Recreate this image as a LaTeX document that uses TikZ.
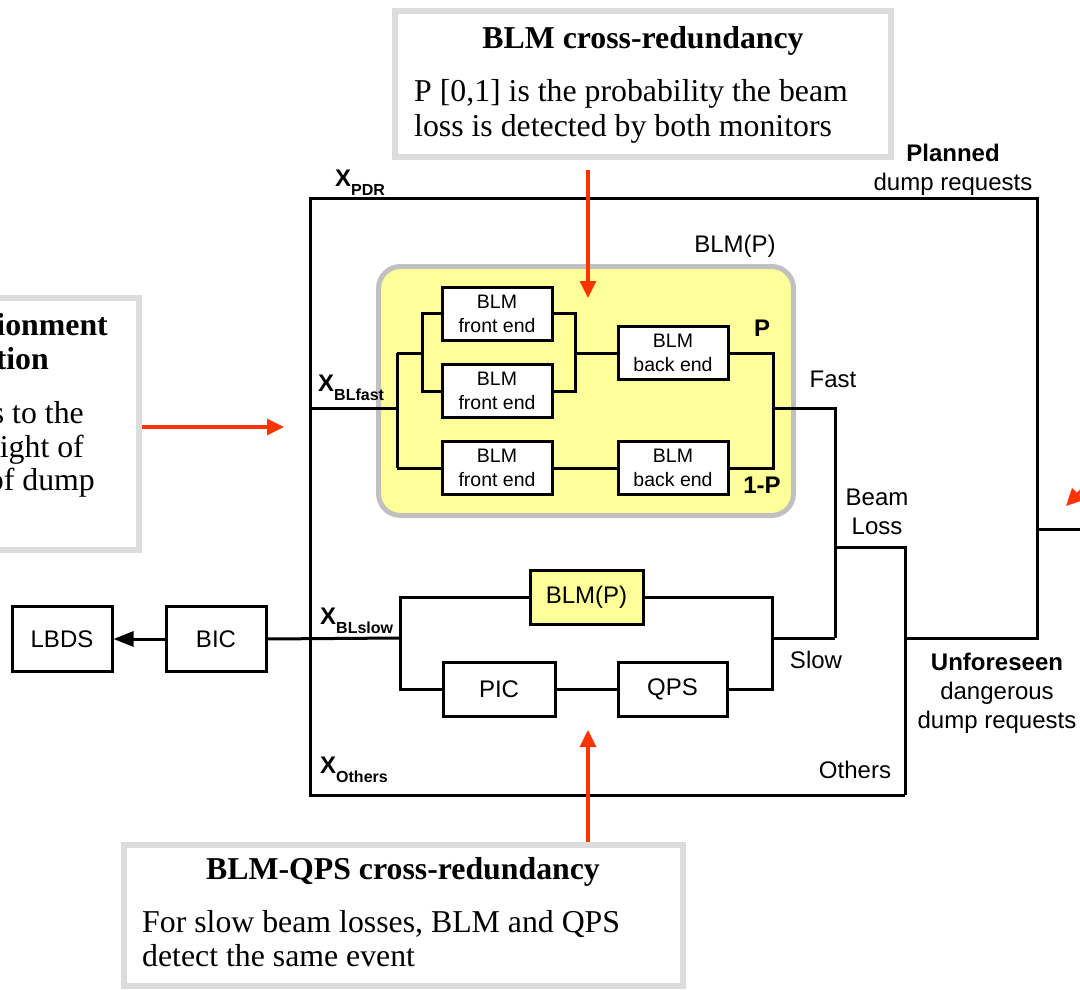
\documentclass[tikz,border=0pt]{standalone}
\usepackage{fontspec}
\setmainfont{Liberation Serif}
\newfontfamily\sansf{Liberation Sans}
\usetikzlibrary{arrows.meta}
\definecolor{blmyellow}{HTML}{FFFF99}
\definecolor{framegray}{HTML}{C0C0C0}
\definecolor{notegray}{HTML}{DCDCDC}
\definecolor{notered}{HTML}{FF3300}
\newcommand\xsub[2]{#1\raisebox{-9pt}{\fontsize{16}{16}\selectfont #2}}

\begin{document}
\begin{tikzpicture}[x=1pt,y=-1pt,
  wire/.style={line width=3pt},
  blk/.style={draw,line width=3pt,fill=white,inner sep=0pt,align=center,
    font=\sansf\fontsize{24}{28}\selectfont},
  blmblk/.style={blk,minimum width=110pt,minimum height=53pt,
    font=\sansf\fontsize{19.5}{24}\selectfont},
  lbl/.style={inner sep=0pt,align=center,font=\sansf\fontsize{24}{29}\selectfont},
  blbl/.style={lbl,font=\sansf\bfseries\fontsize{24}{29}\selectfont},
  xlbl/.style={inner sep=0pt,anchor=base west,font=\sansf\bfseries\fontsize{24}{29}\selectfont},
  note/.style={draw=notegray,line width=6pt,fill=white,inner sep=0pt},
  ntitle/.style={inner sep=0pt,anchor=base,font=\bfseries\fontsize{31.8}{34}\selectfont},
  nbody/.style={inner sep=0pt,anchor=base west,font=\fontsize{31.8}{34}\selectfont},
  nfrag/.style={inner sep=0pt,anchor=base east,font=\fontsize{31.8}{34}\selectfont},
  pointer/.style={draw=notered,line width=3.2pt,-{Triangle[length=17pt,width=16pt]}}]

\useasboundingbox (0,0) rectangle (1080,990);
\clip (0,0) rectangle (1080,990);

% ---------- annotation boxes ----------
\node[note,minimum width=496pt,minimum height=146pt] (cbtop) at (643,84) {};
\node[ntitle] (cbtopt) at (643,49) {BLM cross-redundancy};
\node[nbody] (cbtopa) at (414,102) {P [0,1] is the probability the beam};
\node[nbody] (cbtopb) at (414,136) {loss is detected by both monitors};

\node[note,minimum width=400pt,minimum height=252pt] (cbleft) at (-61,424) {};
\node[nfrag,font=\bfseries\fontsize{31.8}{34}\selectfont] (cbl1) at (108,335) {ionment};
\node[nfrag,font=\bfseries\fontsize{31.8}{34}\selectfont] (cbl2) at (49,369) {tion};
\node[nfrag] (cbl3) at (84,423) {s to the};
\node[nfrag] (cbl4) at (84,457) {ight of};
\node[nfrag] (cbl5) at (95,490) {of dump};

\node[note,minimum width=559pt,minimum height=141pt] (cbbot) at (403.5,915.5) {};
\node[ntitle] (cbbott) at (403,879) {BLM-QPS cross-redundancy};
\node[nbody] (cbbota) at (142,932) {For slow beam losses, BLM and QPS};
\node[nbody] (cbbotb) at (142,966) {detect the same event};

% ---------- BLM(P) group ----------
\node[draw=framegray,fill=blmyellow,line width=5pt,rounded corners=22pt,
  minimum width=415pt,minimum height=249pt] (blmgrp) at (586,391) {};
\node[lbl] (blmgrpl) at (735,246) {BLM(P)};

% ---------- frame and junctions ----------
\coordinate (frTL) at (310,198);
\coordinate (frTR) at (1037,198);
\coordinate (frBL) at (310,795);
\coordinate (frBR) at (905,795);
\coordinate (ur)   at (1037,638);
\coordinate (uj)   at (905,638);
\coordinate (ux)   at (1037,529);
\coordinate (uxo)  at (1090,529);

\coordinate (fin) at (310,408);
\coordinate (fj)  at (397,408);
\coordinate (fa)  at (397,353);
\coordinate (fb)  at (397,468);
\coordinate (fc)  at (422,353);
\coordinate (fd)  at (575,353);
\coordinate (fo)  at (773,408);
\coordinate (fp)  at (835,408);

\coordinate (sj)  at (400,638);
\coordinate (sb)  at (400,689);
\coordinate (se)  at (772,638);
\coordinate (sp)  at (835,638);
\coordinate (bl1) at (835,547);
\coordinate (bl2) at (905,547);

\draw[wire] (frBR) -- (frBL) -- (frTL) -- (frTR) -- (ur) -- (uj);
\draw[wire] (ux) -- (uxo);
\draw[wire] (bl1) -- (bl2) -- (frBR);

% ---------- blocks ----------
\node[blk,minimum width=100pt,minimum height=65pt] (lbds) at (62,639) {LBDS};
\node[blk,minimum width=100pt,minimum height=65pt] (bic) at (216,639) {BIC};

\node[blmblk] (fe1) at (497,313.5) {BLM\\front end};
\node[blmblk] (fe2) at (497,391) {BLM\\front end};
\node[blmblk] (fe3) at (497,468) {BLM\\front end};
\node[blmblk] (be1) at (673,353) {BLM\\back end};
\node[blmblk] (be2) at (673,468) {BLM\\back end};

\node[blk,fill=blmyellow,minimum width=113pt,minimum height=54pt] (blms) at (586.5,597) {BLM(P)};
\node[blk,minimum width=112pt,minimum height=54pt] (pic) at (499,689) {PIC};
\node[blk,minimum width=109pt,minimum height=54pt] (qps) at (672.5,689) {QPS};

% ---------- fast beam loss paths ----------
\draw[wire] (fin) -- (fj);
\draw[wire] (fa) -- (fb);
\draw[wire] (fa) -- (fc);
\draw[wire] (fe1.west) -| (fc) |- (fe2.west);
\draw[wire] (fe1.east) -| (fd) |- (fe2.east);
\draw[wire] (fd) -- (be1.west);
\draw[wire] (fb) -- (fe3.west);
\draw[wire] (fe3.east) -- (be2.west);
\draw[wire] (be1.east) -| (fo) |- (be2.east);
\draw[wire] (fo) -- (fp) -- (sp);

% ---------- slow beam loss paths ----------
\draw[wire,-{Triangle[length=20pt,width=15pt]}] (bic.west) -- (lbds.east);
\draw[wire] (bic.east) -- (sj);
\draw[wire] (blms.west) -| (sb) -- (pic.west);
\draw[wire] (blms.east) -| (se) |- (qps.east);
\draw[wire] (pic.east) -- (qps.west);
\draw[wire] (se) -- (sp);

% ---------- labels ----------
\node[xlbl] (xpdr) at (335,186) {\xsub{X}{PDR}};
\node[xlbl] (xfast) at (318,391) {\xsub{X}{BLfast}};
\node[xlbl] (xslow) at (320,624) {\xsub{X}{BLslow}};
\node[xlbl] (xoth) at (320,773) {\xsub{X}{Others}};

\node[lbl] (planned) at (953,170) {\textbf{Planned}\\dump requests};
\node[blbl] (pl) at (762,328) {P};
\node[blbl] (npl) at (762,485) {1-P};
\node[lbl] (fastl) at (833,379) {Fast};
\node[lbl] (beaml) at (877,512) {Beam\\Loss};
\node[lbl] (slowl) at (816,660) {Slow};
\node[lbl] (othl) at (855,770) {Others};
\node[lbl] (unf) at (997,693) {\textbf{Unforeseen}\\dangerous\\dump requests};

% ---------- pointers ----------
\coordinate (p1s) at (588,170);
\coordinate (p1e) at (588,298);
\coordinate (p2s) at (142,427);
\coordinate (p2e) at (284,427);
\coordinate (p3s) at (588,842);
\coordinate (p3e) at (588,730);
\coordinate (p4s) at (1110,462);
\coordinate (p4e) at (1066,506);
\draw[pointer] (p1s) -- (p1e);
\draw[pointer] (p2s) -- (p2e);
\draw[pointer] (p3s) -- (p3e);
\draw[pointer] (p4s) -- (p4e);
\end{tikzpicture}
\end{document}
